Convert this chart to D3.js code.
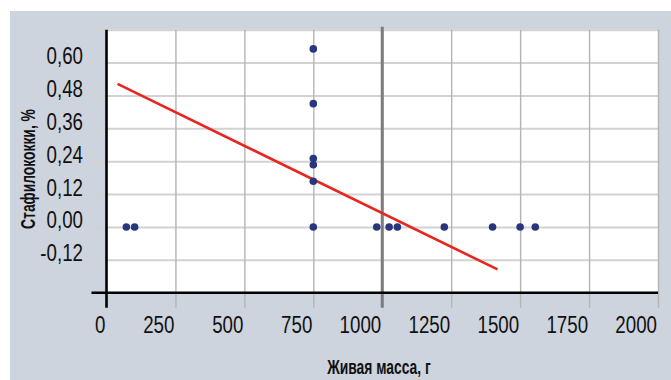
<!DOCTYPE html>
<html>
<head>
<meta charset="utf-8">
<script src="https://cdn.jsdelivr.net/npm/d3@7"></script>
<style>
  body { margin: 0; background: #fff; }
  svg { display: block; }
  text { font-family: "Liberation Sans Narrow", "Arial Narrow", "Liberation Sans", sans-serif; fill: #111; }
</style>
</head>
<body>
<div class="chart"></div>
<script>
//Data
var massX = [72, 102, 750, 750, 750, 750, 750, 750, 980, 1025, 1055, 1225, 1400, 1500, 1555];
var staphY = [0, 0, 0.65, 0.45, 0.25, 0.227, 0.167, 0, 0, 0, 0, 0, 0, 0, 0];
var trendX = [40, 1418];
var trendY = [0.522, -0.155];
var xTicks = [0, 250, 500, 750, 1000, 1250, 1500, 1750, 2000];
var yTicks = [-0.12, 0, 0.12, 0.24, 0.36, 0.48, 0.6, 0.72];
var yLabels = ["-0,12", "0,00", "0,12", "0,24", "0,36", "0,48", "0,60"];
var refLine = 1000;

//Width and height
var w = 671;
var h = 380;
var plotLeft = 106.5, plotRight = 658, plotTop = 29.7, plotBottom = 292.7;
var tick = 15;
var squeeze = 0.78;
var titleSqueeze = 0.66;

var svg = d3.select(".chart")
    .append("svg")
    .attr("width", w)
    .attr("height", h);

//Panel background
svg.append("rect")
    .attr("x", 10).attr("y", 11)
    .attr("width", w - 10).attr("height", h - 11)
    .attr("fill", "#cdd4dd");

svg.append("rect")
    .attr("x", plotLeft).attr("y", plotTop)
    .attr("width", plotRight - plotLeft).attr("height", plotBottom - plotTop)
    .attr("fill", "#fff");

//Scales
var xScale = d3.scaleLinear().domain([0, 2000]).range([plotLeft, plotRight]);
var yScale = d3.scaleLinear().domain([-0.24, 0.72]).range([plotBottom, plotTop]);

//Horizontal grid
var yGrid = d3.axisRight(yScale)
    .tickValues(yTicks)
    .tickSize(plotRight - plotLeft + tick)
    .tickFormat("");
svg.append("g")
    .attr("transform", "translate(" + (plotLeft - tick) + ",0)")
    .call(yGrid)
    .call(g => g.select(".domain").remove())
    .call(g => g.selectAll("line").attr("stroke", "#d2d2d2").attr("stroke-width", 2));

//Vertical grid
var xGrid = d3.axisBottom(xScale)
    .tickValues(xTicks.filter(d => d > 0))
    .tickSize(plotBottom - plotTop + tick)
    .tickFormat("");
svg.append("g")
    .attr("transform", "translate(0," + plotTop + ")")
    .call(xGrid)
    .call(g => g.select(".domain").remove())
    .call(g => g.selectAll("line").attr("stroke", "#b4b4b4").attr("stroke-width", 1.4));

//Reference line at 1000
svg.append("line")
    .attr("x1", xScale(refLine)).attr("x2", xScale(refLine))
    .attr("y1", plotTop - 3).attr("y2", plotBottom + tick)
    .attr("stroke", "#7c7c7c")
    .attr("stroke-width", 3);

//Axes lines
svg.append("line")
    .attr("x1", plotLeft).attr("x2", plotLeft)
    .attr("y1", plotTop).attr("y2", plotBottom + tick)
    .attr("stroke", "#000").attr("stroke-width", 2.6);
svg.append("line")
    .attr("x1", plotLeft - tick).attr("x2", plotRight)
    .attr("y1", plotBottom).attr("y2", plotBottom)
    .attr("stroke", "#000").attr("stroke-width", 2.6);

//Tick labels
svg.selectAll(".ylab")
    .data(yLabels)
    .enter()
    .append("text")
    .attr("class", "ylab")
    .attr("text-anchor", "end")
    .attr("font-size", 24)
    .attr("transform", (d, i) => "translate(83," + (yScale(yTicks[i]) + 1.5) + ") scale(" + squeeze + ",1)")
    .text(d => d);

svg.selectAll(".xlab")
    .data(xTicks)
    .enter()
    .append("text")
    .attr("class", "xlab")
    .attr("text-anchor", "end")
    .attr("font-size", 24)
    .attr("transform", d => "translate(" + (xScale(d) - 1) + ",332.5) scale(" + squeeze + ",1)")
    .text(d => d);

//Trend line
svg.append("line")
    .attr("x1", xScale(trendX[0])).attr("y1", yScale(trendY[0]))
    .attr("x2", xScale(trendX[1])).attr("y2", yScale(trendY[1]))
    .attr("stroke", "#e8251f")
    .attr("stroke-width", 2.6);

//Dots
svg.selectAll(".dot")
    .data(massX)
    .enter()
    .append("circle")
    .attr("class", "dot")
    .attr("r", 3.8)
    .attr("cx", d => xScale(d))
    .attr("cy", (d, i) => yScale(staphY[i]))
    .attr("fill", "#28377d");

//Axis titles
svg.append("text")
    .attr("text-anchor", "middle")
    .attr("font-size", 21)
    .attr("font-weight", "bold")
    .attr("transform", "translate(379,374) scale(" + titleSqueeze + ",1)")
    .text("Живая масса, г");

svg.append("text")
    .attr("text-anchor", "middle")
    .attr("font-size", 21)
    .attr("font-weight", "bold")
    .attr("transform", "translate(35,169) rotate(-90) scale(" + titleSqueeze + ",1)")
    .text("Стафилококки, %");
</script>
</body>
</html>
